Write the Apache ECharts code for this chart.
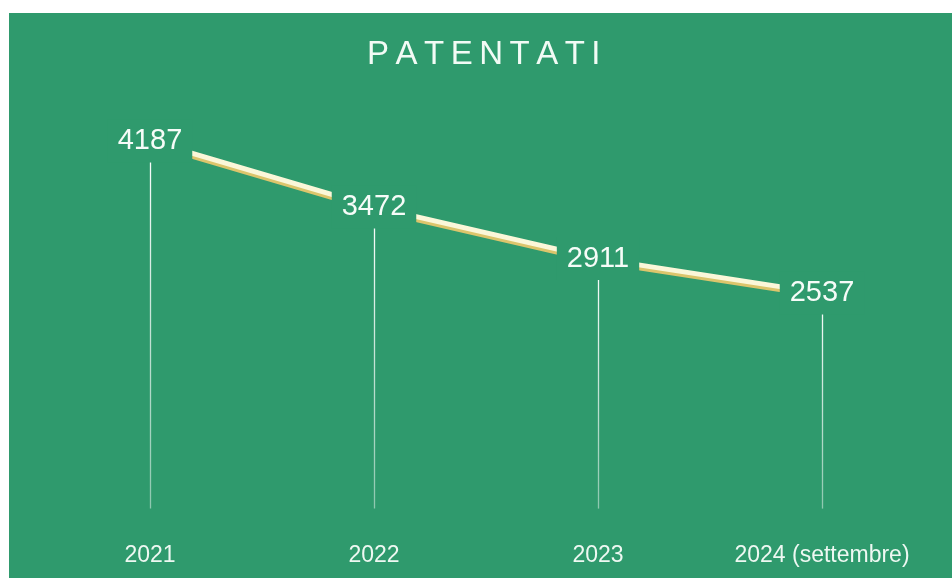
<!DOCTYPE html>
<html>
<head>
<meta charset="utf-8">
<style>
html,body{margin:0;padding:0;background:#ffffff;}
#chart{width:952px;height:578px;}
</style>
<script src="https://cdn.jsdelivr.net/npm/echarts@6/dist/echarts.min.js"></script>
</head>
<body>
<div id="chart"></div>
<script>
const titleText = 'PATENTATI';
const categories = ['2021', '2022', '2023', '2024 (settembre)'];
const values = [4187, 3472, 2911, 2537];

const GREEN = '#2f9a6d';
const FONT = 'Liberation Sans, Arial, sans-serif';
const chart = echarts.init(document.getElementById('chart'));

const letters = titleText.split('');
const titleRich = letters.map((c, i) => '{' + (i < letters.length - 1 ? 's' : 'e') + '|' + c + '}').join('');

const option = {
  backgroundColor: '#ffffff',
  animation: false,
  graphic: [{
    type: 'rect', z: -10, silent: true,
    shape: { x: 9, y: 13, width: 943, height: 565 },
    style: { fill: GREEN }
  }],
  title: {
    text: titleRich,
    left: 367,
    top: 38,
    padding: 0,
    textStyle: {
      color: '#f2fbf5',
      fontSize: 33,
      fontWeight: 'normal',
      fontFamily: FONT,
      rich: {
        s: { color: '#f2fbf5', fontSize: 33, fontWeight: 'normal', fontFamily: FONT, padding: [0, 6.5, 0, 0] },
        e: { color: '#f2fbf5', fontSize: 33, fontWeight: 'normal', fontFamily: FONT }
      }
    }
  },
  grid: { left: 38, right: 18, top: 66, bottom: 69.4 },
  xAxis: {
    type: 'category',
    data: categories,
    boundaryGap: true,
    axisLine: { show: false },
    axisTick: { show: false },
    axisLabel: {
      color: '#eef8f2',
      fontSize: 23,
      fontFamily: FONT,
      margin: 36,
      interval: 0
    },
    splitLine: { show: false }
  },
  yAxis: {
    type: 'value',
    min: 200,
    max: 5000,
    show: false
  },
  series: [
    {
      type: 'custom',
      z: 1,
      silent: true,
      data: values.map((v, i) => [i, v]),
      renderItem: function (params, api) {
        const top = api.coord([api.value(0), api.value(1)]);
        const bottom = api.coord([api.value(0), 200]);
        const x = Math.round(top[0]) + 0.5;
        return {
          type: 'line',
          shape: { x1: x, y1: top[1], x2: x, y2: bottom[1] },
          style: {
            stroke: new echarts.graphic.LinearGradient(0, 0, 0, 1, [
              { offset: 0, color: 'rgba(255,255,255,1)' },
              { offset: 1, color: 'rgba(255,255,255,0.45)' }
            ]),
            lineWidth: 1.3
          }
        };
      }
    },
    {
      type: 'line',
      z: 3,
      data: values,
      symbol: 'circle',
      symbolSize: 1,
      showSymbol: true,
      itemStyle: { color: 'rgba(0,0,0,0)' },
      lineStyle: {
        color: '#fbf7d9',
        width: 5,
        cap: 'butt',
        shadowColor: '#dcc56c',
        shadowOffsetY: 3,
        shadowBlur: 0
      },
      label: {
        show: true,
        position: 'inside',
        color: '#f6fcf8',
        fontSize: 29,
        fontFamily: FONT,
        lineHeight: 29,
        backgroundColor: GREEN,
        padding: [7, 10]
      },
      labelLayout: { hideOverlap: false }
    }
  ]
};
chart.setOption(option);
</script>
</body>
</html>
